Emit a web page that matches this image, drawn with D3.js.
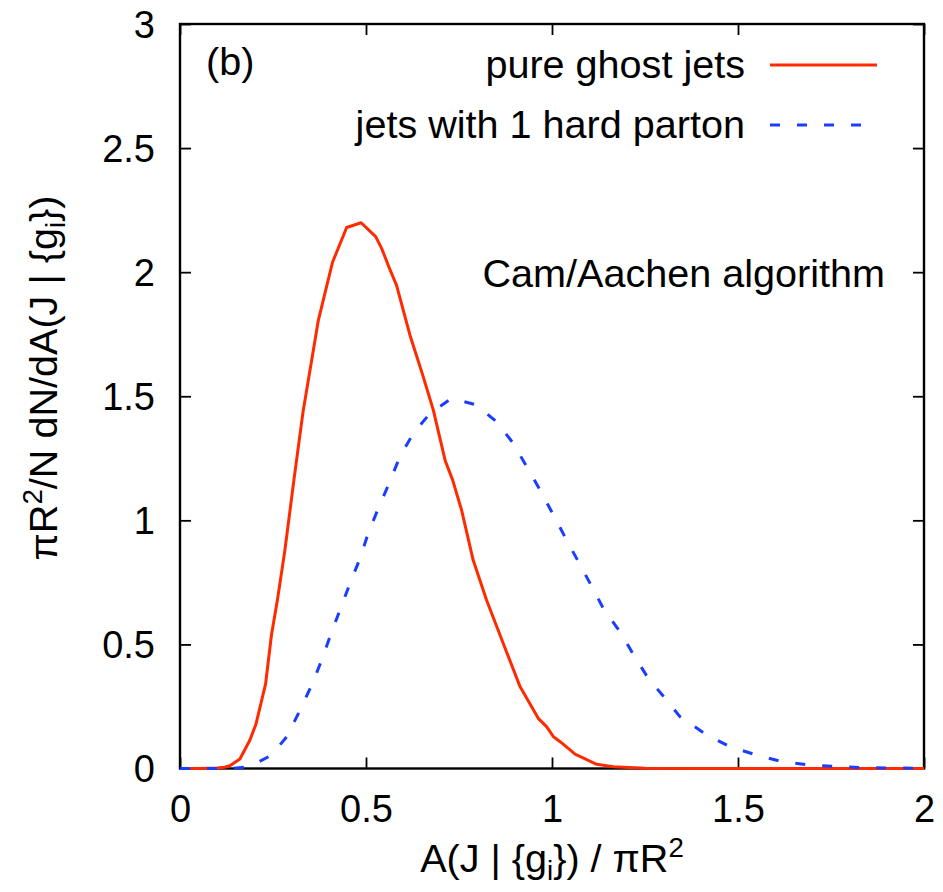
<!DOCTYPE html>
<html>
<head>
<meta charset="utf-8">
<script src="https://cdn.jsdelivr.net/npm/d3@7"></script>
<style>
  html, body { margin: 0; padding: 0; background: #fff; }
  svg { display: block; font-family: "Liberation Sans", Arial, Helvetica, sans-serif; }
</style>
</head>
<body>
<svg id="chart" width="943" height="892"></svg>
<script>
// ---- data ----
const xTicks = [0, 0.5, 1, 1.5, 2];
const yTicks = [0, 0.5, 1, 1.5, 2, 2.5, 3];
const xTickLabels = ["0", "0.5", "1", "1.5", "2"];
const yTickLabels = ["0", "0.5", "1", "1.5", "2", "2.5", "3"];

const seriesNames = ["pure ghost jets", "jets with 1 hard parton"];

const ghostX = [0.00, 0.05, 0.10, 0.12, 0.134, 0.161, 0.188, 0.204, 0.23, 0.246, 0.262, 0.282, 0.306, 0.331, 0.372, 0.41, 0.448, 0.487, 0.526, 0.542, 0.565, 0.582, 0.618, 0.654, 0.681, 0.713, 0.733, 0.757, 0.788, 0.824, 0.869, 0.914, 0.963, 0.986, 1.004, 1.022, 1.062, 1.12, 1.165, 1.25, 1.4, 2.0];
const ghostY = [0, 0, 0.002, 0.005, 0.011, 0.038, 0.115, 0.178, 0.34, 0.54, 0.68, 0.88, 1.16, 1.44, 1.807, 2.04, 2.18, 2.199, 2.143, 2.096, 2.008, 1.948, 1.747, 1.578, 1.444, 1.24, 1.162, 1.041, 0.84, 0.679, 0.504, 0.33, 0.202, 0.168, 0.128, 0.108, 0.058, 0.017, 0.007, 0.001, 0, 0];

const hardX = [0.00, 0.10, 0.143, 0.188, 0.246, 0.287, 0.323, 0.354, 0.381, 0.403, 0.43, 0.457, 0.484, 0.506, 0.533, 0.56, 0.591, 0.627, 0.672, 0.730, 0.797, 0.851, 0.896, 0.932, 0.968, 1.004, 1.039, 1.071, 1.107, 1.14, 1.183, 1.221, 1.259, 1.304, 1.344, 1.416, 1.478, 1.55, 1.62, 1.694, 1.774, 1.85, 2.0];
const hardY = [0, 0, 0.001, 0.008, 0.054, 0.128, 0.236, 0.336, 0.437, 0.531, 0.639, 0.746, 0.847, 0.948, 1.048, 1.142, 1.256, 1.35, 1.431, 1.491, 1.465, 1.397, 1.31, 1.216, 1.122, 1.021, 0.921, 0.833, 0.733, 0.639, 0.551, 0.454, 0.363, 0.283, 0.209, 0.135, 0.088, 0.054, 0.027, 0.014, 0.007, 0.003, 0.001];

// ---- layout ----
const svg = d3.select("#chart");
const mLeft = 180, mRight = 924, mTop = 24, mBottom = 768.5;
const x = d3.scaleLinear().domain([0, 2]).range([mLeft, mRight]);
const y = d3.scaleLinear().domain([0, 3]).range([mBottom, mTop]);
const FS = 38;      // tick labels
const FT = 39.6;    // other texts
const red = "#ff2a00", blue = "#1a3dff";
const tickLen = 11;

// axes with inward ticks (gnuplot-like, mirrored)
const gx = svg.append("g").attr("transform", `translate(0,${mBottom})`)
  .call(d3.axisBottom(x).tickValues(xTicks).tickFormat((d, i) => xTickLabels[i]).tickSizeInner(-tickLen).tickSizeOuter(0).tickPadding(tickLen + 14));
const gxt = svg.append("g").attr("transform", `translate(0,${mTop})`)
  .call(d3.axisTop(x).tickValues(xTicks).tickFormat("").tickSizeInner(-tickLen).tickSizeOuter(0));
const gy = svg.append("g").attr("transform", `translate(${mLeft},0)`)
  .call(d3.axisLeft(y).tickValues(yTicks).tickFormat((d, i) => yTickLabels[i]).tickSizeInner(-tickLen).tickSizeOuter(0).tickPadding(tickLen + 14));
const gyr = svg.append("g").attr("transform", `translate(${mRight},0)`)
  .call(d3.axisRight(y).tickValues(yTicks).tickFormat("").tickSizeInner(-tickLen).tickSizeOuter(0));

[gx, gxt, gy, gyr].forEach(g => {
  g.select(".domain").remove();
  g.selectAll(".tick line").attr("stroke", "#000").attr("stroke-width", 1.8);
  g.selectAll(".tick text").attr("font-size", FS).attr("fill", "#000")
    .attr("font-family", '"Liberation Sans", Arial, Helvetica, sans-serif');
});
gx.selectAll(".tick text").attr("y", 0).attr("dy", "1.4em");
gy.selectAll(".tick text").attr("dy", "0.35em");

// frame
svg.append("rect").attr("x", mLeft).attr("y", mTop).attr("width", mRight - mLeft).attr("height", mBottom - mTop)
  .attr("fill", "none").attr("stroke", "#000").attr("stroke-width", 2.4);

// curves
const line = d3.line().x(d => x(d[0])).y(d => y(d[1]));
const ghost = ghostX.map((v, i) => [v, ghostY[i]]);
const hard = hardX.map((v, i) => [v, hardY[i]]);

svg.append("path").datum(ghost).attr("d", line).attr("fill", "none")
  .attr("stroke", red).attr("stroke-width", 3).attr("stroke-linejoin", "round");
svg.append("path").datum(hard).attr("d", line).attr("fill", "none")
  .attr("stroke", blue).attr("stroke-width", 3).attr("stroke-dasharray", "10,17");

// legend
const legend = [
  { name: seriesNames[0], color: red, dash: null, yBase: 78, yLine: 65, x2: 877 },
  { name: seriesNames[1], color: blue, dash: "10,17", yBase: 138, yLine: 125, x2: 877 }
];
legend.forEach(l => {
  svg.append("text").attr("x", 745).attr("y", l.yBase).attr("text-anchor", "end")
    .attr("font-size", FT).attr("fill", "#000").text(l.name);
  svg.append("line").attr("x1", 770).attr("x2", l.x2).attr("y1", l.yLine).attr("y2", l.yLine)
    .attr("stroke", l.color).attr("stroke-width", 3).attr("stroke-dasharray", l.dash);
});

// annotations
svg.append("text").attr("x", 206).attr("y", 75).attr("font-size", FT).text("(b)");
svg.append("text").attr("x", 885).attr("y", 287).attr("text-anchor", "end").attr("font-size", FT).text("Cam/Aachen algorithm");

// x label
const xl = svg.append("text").attr("x", (mLeft + mRight) / 2).attr("y", 872).attr("text-anchor", "middle").attr("font-size", FT);
xl.append("tspan").text("A(J | {g");
xl.append("tspan").attr("font-size", FT * 0.7).attr("dy", 8).text("i");
xl.append("tspan").attr("dy", -8).text("}) / πR");
xl.append("tspan").attr("font-size", FT * 0.7).attr("dy", -15).text("2");

// y label
const yl = svg.append("text").attr("transform", `translate(57,378) rotate(-90)`)
  .attr("text-anchor", "middle").attr("font-size", FT);
yl.append("tspan").text("πR");
yl.append("tspan").attr("font-size", FT * 0.7).attr("dy", -15).text("2");
yl.append("tspan").attr("dy", 15).text("/N dN/dA(J | {g");
yl.append("tspan").attr("font-size", FT * 0.7).attr("dy", 8).text("i");
yl.append("tspan").attr("dy", -8).text("})");
</script>
</body>
</html>
